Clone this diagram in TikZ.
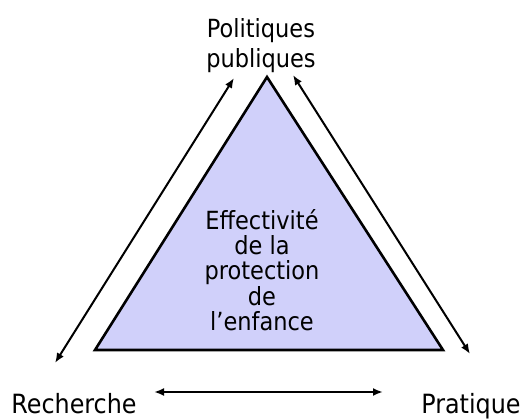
\documentclass[tikz,border=0pt]{standalone}
\usepackage{fontspec}
\setmainfont{DejaVu Sans Condensed}
\usetikzlibrary{arrows.meta}
\definecolor{triFill}{RGB}{208,208,250}
\tikzset{
  lbl/.style={font=\fontsize{25}{30}\selectfont, align=center, inner sep=0pt},
  blbl/.style={font=\fontsize{26.5}{30}\selectfont, inner sep=0pt, anchor=base},
  midlbl/.style={font=\fontsize{25}{25.2}\selectfont, align=center, inner sep=0pt},
  arr/.style={{Latex[length=10pt,width=8pt]}-{Latex[length=10pt,width=8pt]}, line width=2pt},
}
\begin{document}
\begin{tikzpicture}[x=1pt,y=1pt]
\useasboundingbox (0,0) rectangle (525,418);
\coordinate (A) at (267,341);
\coordinate (B) at (95,68);
\coordinate (C) at (443,68);
\draw[fill=triFill, line width=2.6pt, line join=miter] (A) -- (B) -- (C) -- cycle;
\node[lbl] (pol) at (261,372) {Politiques\\publiques};
\node[blbl] (rech) at (74,5) {Recherche};
\node[blbl] (prat) at (471,5) {Pratique};
\node[midlbl] (mid) at (262,148) {Effectivité\\de la\\protection\\de\\l’enfance};
\coordinate (l1) at (234,340);
\coordinate (l2) at (55,55);
\coordinate (r1) at (293,343);
\coordinate (r2) at (470,64);
\coordinate (b1) at (154,26);
\coordinate (b2) at (383,26);
\draw[arr] (l1) -- (l2);
\draw[arr] (r1) -- (r2);
\draw[arr] (b1) -- (b2);
\end{tikzpicture}
\end{document}
